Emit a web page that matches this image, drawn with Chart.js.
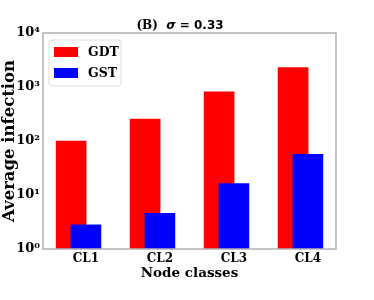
<!doctype html>
<html lang="en">
  <head>
    <meta charset="utf-8">
    <title>Average infection by node class</title>
    <style>
      * { margin: 0; padding: 0; }
      body { background: white; }
      .chartBox { width: 374px; height: 300px; }
    </style>
  </head>
  <body>
    <div class="chartBox">
      <canvas id="myChart" width="374" height="300"></canvas>
    </div>
    <script src="https://cdn.jsdelivr.net/npm/chart.js"></script>
    <script>
    // data
    const classes = ['CL1', 'CL2', 'CL3', 'CL4'];
    const gdtValues = [100, 255, 810, 2280];
    const gstValues = [2.8, 4.6, 16.2, 56.5];
    const yTicks = [1, 10, 100, 1000, 10000];

    const serif = "'DejaVu Serif', serif";
    const sans = "'DejaVu Sans', sans-serif";
    const sup = { '0': '⁰', '1': '¹', '2': '²', '3': '³', '4': '⁴' };

    // frame, legend and title drawn on top of the plot
    const decorations = {
      id: 'decorations',
      afterDraw(chart) {
        const ctx = chart.ctx;
        const a = chart.chartArea;
        ctx.save();
        // gray box round the plot
        ctx.strokeStyle = '#b0b0b0';
        ctx.lineWidth = 1.5;
        ctx.strokeRect(a.left, a.top, a.right - a.left, a.bottom - a.top);

        // legend in upper left corner
        const lx = a.left + 6, ly = a.top + 7;
        ctx.fillStyle = 'rgba(255,255,255,0.8)';
        ctx.strokeStyle = '#dddddd';
        ctx.lineWidth = 1;
        ctx.beginPath();
        ctx.roundRect(lx, ly, 72, 46, 3);
        ctx.fill();
        ctx.stroke();
        const order = [1, 0];
        order.forEach((di, k) => {
          const ds = chart.data.datasets[di];
          const y = ly + 7 + k * 21;
          ctx.fillStyle = ds.backgroundColor;
          ctx.fillRect(lx + 5, y, 24, 10);
          ctx.fillStyle = '#000';
          ctx.font = 'bold 12.5px ' + serif;
          ctx.textBaseline = 'middle';
          ctx.textAlign = 'left';
          ctx.fillText(ds.label, lx + 39, y + 5.5);
        });

        // title: (B)  sigma = 0.33
        const parts = [
          { t: '(B)  ', f: 'bold 12px ' + serif },
          { t: 'σ', f: 'italic bold 12px ' + sans },
          { t: ' = 0.33', f: 'bold 12px ' + sans }
        ];
        let total = 0;
        parts.forEach(p => { ctx.font = p.f; p.w = ctx.measureText(p.t).width; total += p.w; });
        let x = 180 - total / 2;
        ctx.fillStyle = '#000';
        ctx.textBaseline = 'middle';
        parts.forEach(p => { ctx.font = p.f; ctx.fillText(p.t, x, 26); x += p.w; });
        ctx.restore();
      }
    };

    const data = {
      datasets: [{
        label: 'GST',
        data: classes.map((c, i) => ({ x: i + 0.2, y: gstValues[i] })),
        backgroundColor: '#0000ff',
        order: 0
      }, {
        label: 'GDT',
        data: classes.map((c, i) => ({ x: i, y: gdtValues[i] })),
        backgroundColor: '#ff0000',
        order: 1
      }]
    };

    const config = {
      type: 'bar',
      data,
      options: {
        responsive: false,
        animation: false,
        layout: { padding: { top: 33, right: 38, bottom: 18, left: 0 } },
        datasets: { bar: { grouped: false, barThickness: 30 } },
        plugins: {
          legend: { display: false },
          title: { display: false },
          tooltip: { enabled: false }
        },
        scales: {
          x: {
            type: 'linear',
            offset: false,
            min: -0.38,
            max: 3.58,
            grid: { display: false, drawTicks: false, offset: false },
            border: { display: false },
            afterBuildTicks(scale) {
              scale.ticks = classes.map((c, i) => ({ value: i + 0.2 }));
            },
            afterFit(scale) { scale.height = 33; },
            ticks: {
              padding: 3,
              color: '#000',
              font: { family: serif, size: 12, weight: 'bold' },
              callback: (v) => classes[Math.round(v - 0.2)]
            },
            title: {
              display: true,
              text: 'Node classes',
              color: '#000',
              padding: 0,
              font: { family: serif, size: 13.5, weight: 'bold' }
            }
          },
          y: {
            type: 'logarithmic',
            min: 1,
            max: 10000,
            grid: { display: false, drawTicks: false },
            border: { display: false },
            afterBuildTicks(scale) {
              scale.ticks = yTicks.map(v => ({ value: v }));
            },
            afterFit(scale) { scale.width = 43; },
            ticks: {
              padding: 3,
              color: '#000',
              font: { family: serif, size: 13, weight: 'bold' },
              callback: (v) => '10' + sup[String(Math.round(Math.log10(v)))]
            },
            title: {
              display: true,
              text: 'Average infection',
              color: '#000',
              padding: { top: 0, bottom: 0 },
              font: { family: serif, size: 16.5, weight: 'bold' }
            }
          }
        }
      },
      plugins: [decorations]
    };

    const myChart = new Chart(document.getElementById('myChart'), config);
    </script>
  </body>
</html>
